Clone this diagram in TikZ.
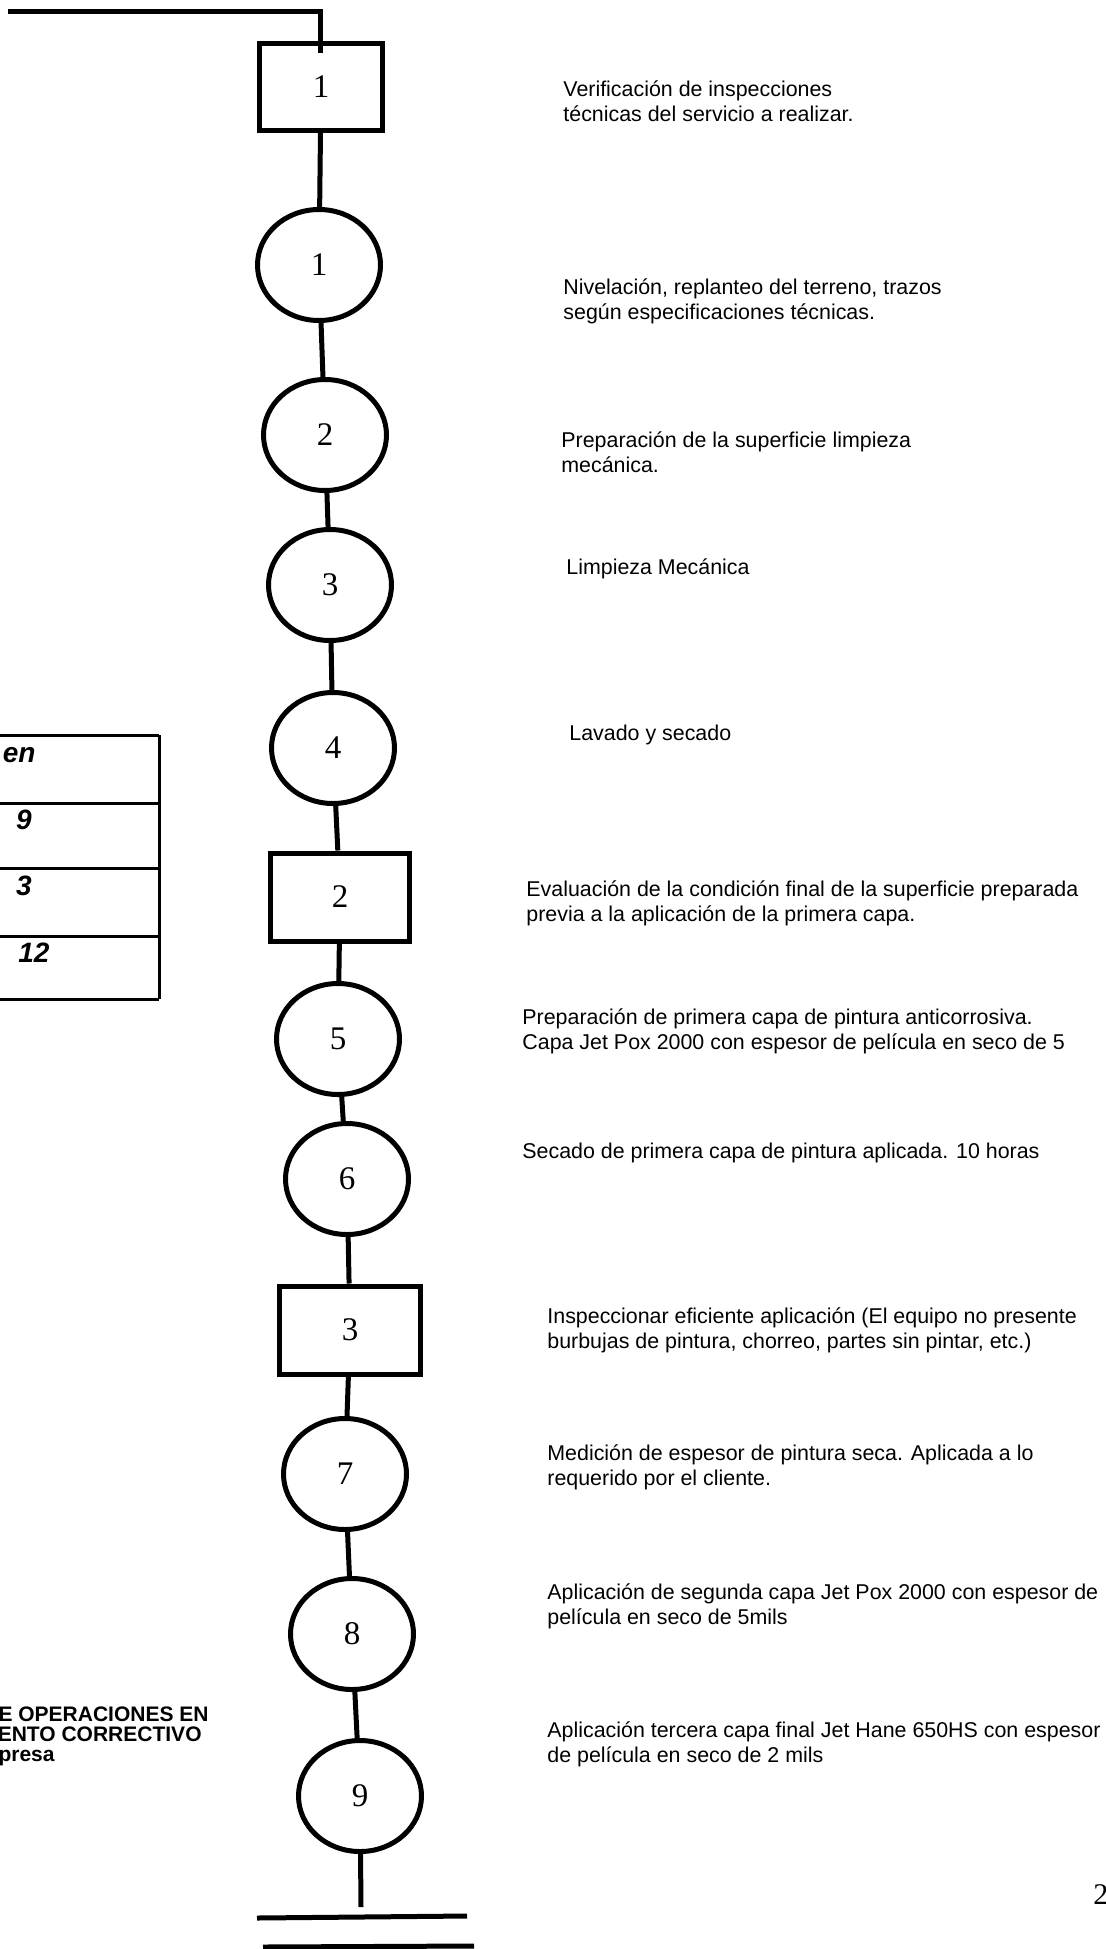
\documentclass[tikz,border=0pt]{standalone}
\usepackage{fontspec}
\setmainfont{Liberation Serif}
\newfontfamily\arialf{Liberation Sans}
\usetikzlibrary{shapes.geometric}
\begin{document}
\begin{tikzpicture}[x=0.5pt,y=-0.5pt,
  ln/.style={line width=2.5pt},
  tbl/.style={line width=1.5pt},
  circ/.style={ellipse,draw,line width=2.5pt,minimum width=61.5pt,minimum height=55.5pt,inner sep=0pt,font=\fontsize{16.5}{18}\selectfont},
  opbox/.style={rectangle,draw,line width=2.5pt,inner sep=0pt,minimum height=44pt,font=\fontsize{16.5}{18}\selectfont},
  desc/.style={anchor=west,align=left,inner sep=0pt,font=\arialf\fontsize{10.7}{12.5}\selectfont},
  tcell/.style={inner sep=0pt,font=\arialf\bfseries\itshape\fontsize{14}{16}\selectfont},
  ttl/.style={anchor=base east,inner sep=0pt,font=\arialf\bfseries\fontsize{10.5}{12}\selectfont}]
\useasboundingbox (0,0) rectangle (1105,1949);

% shapes
\node[opbox,minimum width=61.5pt,minimum height=43.5pt] (b1) at (321,87) {1};
\node[circ] (c1) at (319,265) {1};
\node[circ] (c2) at (325,435) {2};
\node[circ] (c3) at (330,585) {3};
\node[circ] (c4) at (333,748) {4};
\node[opbox,minimum width=69.5pt] (b2) at (340,897) {2};
\node[circ] (c5) at (338,1039) {5};
\node[circ] (c6) at (347,1179) {6};
\node[opbox,minimum width=70.5pt] (b3) at (350,1330) {3};
\node[circ] (c7) at (345,1474) {7};
\node[circ] (c8) at (352,1634) {8};
\node[circ] (c9) at (360,1796) {9};

% top feed line
\coordinate (tl) at (8,11);
\coordinate (tin) at (320,53);
\draw[ln] (tl) -| (tin);

% connectors
\draw[ln] (b1) -- (c1);
\draw[ln] (c1) -- (c2);
\draw[ln] (c2) -- (c3);
\draw[ln] (c3) -- (c4);
\draw[ln] (c4) -- (b2);
\draw[ln] (b2) -- (c5);
\draw[ln] (c5) -- (c6);
\draw[ln] (c6) -- (b3);
\draw[ln] (b3) -- (c7);
\draw[ln] (c7) -- (c8);
\draw[ln] (c8) -- (c9);
\coordinate (bend) at (361,1907);
\draw[ln] (c9) -- (bend);

% bottom bars
\coordinate (bl1) at (257,1918);
\coordinate (br1) at (467,1916);
\coordinate (bl2) at (263,1947);
\coordinate (br2) at (474,1946);
\draw[ln] (bl1) -- (br1);
\draw[ln] (bl2) -- (br2);

% descriptions
\node[desc] (t1) at (563,101) {Verificación de inspecciones\\técnicas del servicio a realizar.};
\node[desc] (t2) at (563,301) {Nivelación, replanteo del terreno, trazos\\según especificaciones técnicas.};
\node[desc] (t3) at (561,452) {Preparación de la superficie limpieza\\mecánica.};
\node[desc] (t4) at (566,569) {Limpieza Mecánica};
\node[desc] (t5) at (569,735) {Lavado y secado};
\node[desc] (t6) at (526,903) {Evaluación de la condición final de la superficie preparada\\previa a la aplicación de la primera capa.};
\node[desc] (t7) at (522,1031) {Preparación de primera capa de pintura anticorrosiva.\\Capa Jet Pox 2000 con espesor de película en seco de 5};
\node[desc] (t8) at (522,1153) {Secado de primera capa de pintura aplicada. 10 horas};
\node[desc] (t9) at (547,1330) {Inspeccionar eficiente aplicación (El equipo no presente\\burbujas de pintura, chorreo, partes sin pintar, etc.)};
\node[desc] (t10) at (547,1467) {Medición de espesor de pintura seca. Aplicada a lo\\requerido por el cliente.};
\node[desc] (t11) at (547,1606) {Aplicación de segunda capa Jet Pox 2000 con espesor de\\película en seco de 5mils};
\node[desc] (t12) at (547,1744) {Aplicación tercera capa final Jet Hane 650HS con espesor\\de película en seco de 2 mils};

% table (cut at left edge)
\draw[tbl] (-5,735) -- (159,735);
\draw[tbl] (-5,803) -- (159,803);
\draw[tbl] (-5,868) -- (159,868);
\draw[tbl] (-5,936) -- (159,936);
\draw[tbl] (-5,999) -- (159,999);
\draw[tbl] (159,735) -- (159,999);
\node[tcell,anchor=east] (h) at (36,755) {en};
\node[tcell] (n9) at (24,820) {9};
\node[tcell] (n3) at (24,886) {3};
\node[tcell] (n12) at (34,953) {12};

% title (cut at left edge)
\node[ttl] (tt1) at (209,1721) {E OPERACIONES EN};
\node[ttl] (tt2) at (202,1741) {ENTO CORRECTIVO};
\node[ttl] (tt3) at (55,1761) {presa};

% page number (cut at right edge)
\node[anchor=west,inner sep=0pt,font=\fontsize{15}{17}\selectfont] (pg) at (1093,1895) {2};
\end{tikzpicture}
\end{document}
